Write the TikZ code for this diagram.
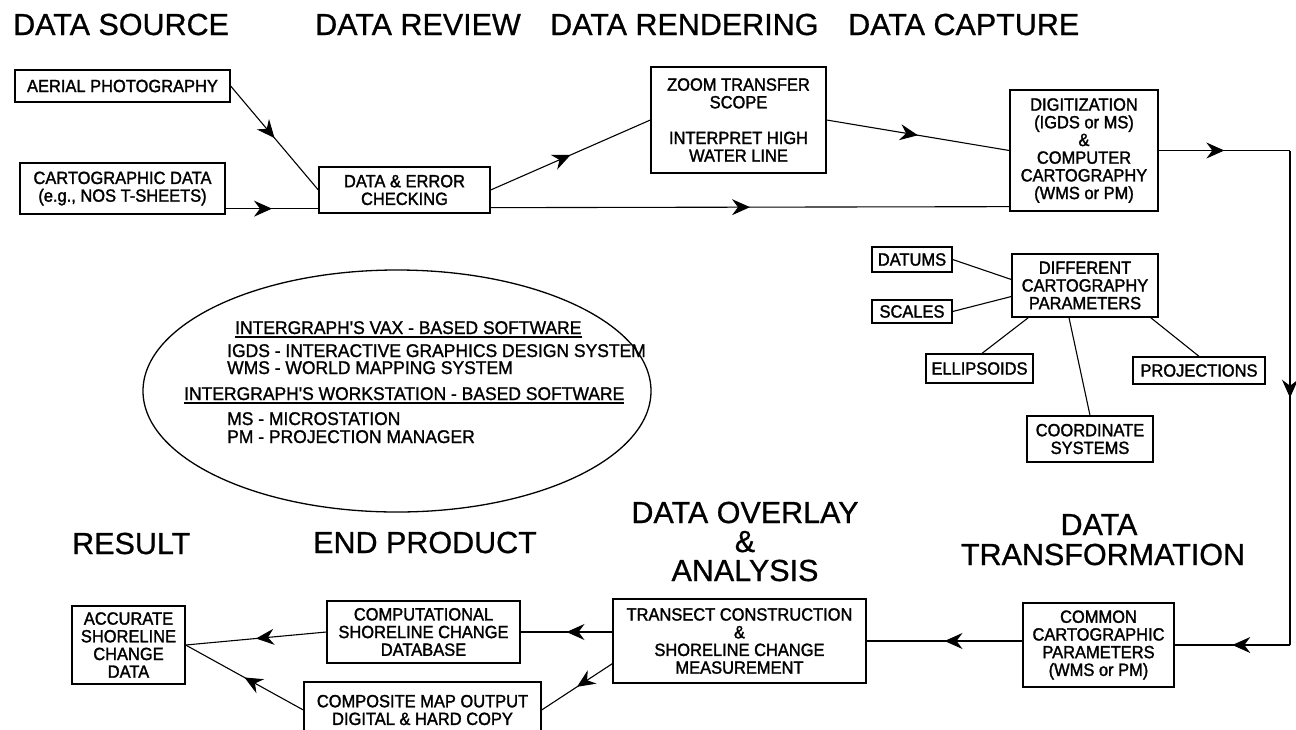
\documentclass[tikz,border=0pt]{standalone}
\usepackage{fontspec}
\setmainfont{Liberation Sans}
\newfontfamily\heavyfont[FakeBold=1.6, FakeStretch=0.93]{Liberation Sans}
\newfontfamily\medfont[FakeBold=1.2, FakeStretch=0.95]{Liberation Sans}
\newfontfamily\hdrfont[FakeBold=0.8]{Liberation Sans}
\usetikzlibrary{arrows.meta,decorations.markings,shapes.geometric,calc}
\tikzset{
  box/.style={draw, line width=1.3pt, inner sep=0pt, align=center,
    font=\heavyfont\fontsize{17.7}{17.7}\selectfont},
  hdr/.style={inner sep=0pt, font=\hdrfont\fontsize{30.5}{30}\selectfont},
  leg/.style={inner sep=0pt, anchor=base west, font=\medfont\fontsize{18.4}{18}\selectfont},
  conn/.style={line width=1.1pt},
  midarrow/.style={conn, postaction={decorate}, decoration={markings,
    mark=at position 0.5 with {\arrow{Stealth[length=18pt,width=16pt,inset=6pt]}}}},
}
\begin{document}
\begin{tikzpicture}[x=1pt,y=-1pt]
\path[use as bounding box, clip] (0,0) rectangle (1296,729);
\fill[white] (0,0) rectangle (1296,729);

% headers
\node[hdr, anchor=base west] (hsrc) at (13,35) {DATA SOURCE};
\node[hdr, anchor=base west] (hrev) at (315,35) {DATA REVIEW};
\node[hdr, anchor=base west] (hren) at (550,35) {DATA RENDERING};
\node[hdr, anchor=base west] (hcap) at (848,35) {DATA CAPTURE};
\node[hdr, anchor=base west] (hres) at (72,554) {RESULT};
\node[hdr, anchor=base west] (hend) at (313,553) {END PRODUCT};
\node[hdr, anchor=base] (hov1) at (745,523) {DATA OVERLAY};
\node[hdr, anchor=base] (hov2) at (745,552) {\&};
\node[hdr, anchor=base] (hov3) at (745,581) {ANALYSIS};
\node[hdr, anchor=base] (htr1) at (1099,535) {DATA};
\node[hdr, anchor=base] (htr2) at (1103,565) {TRANSFORMATION};

% boxes
\node[box, minimum width=215pt, minimum height=32pt] (aerial) at (122.5,86) {AERIAL PHOTOGRAPHY};
\node[box, minimum width=205pt, minimum height=51pt] (carto) at (122.5,188.5) {CARTOGRAPHIC DATA\\(e.g., NOS T-SHEETS)};
\node[box, minimum width=171pt, minimum height=46pt] (de) at (404.5,190) {DATA \& ERROR\\CHECKING};
\node[box, minimum width=175pt, minimum height=106pt] (zoom) at (738.5,120) {ZOOM TRANSFER\\SCOPE\\[18pt]INTERPRET HIGH\\WATER LINE};
\node[box, minimum width=148pt, minimum height=121pt] (digit) at (1084,150.5) {DIGITIZATION\\(IGDS or MS)\\\&\\COMPUTER\\CARTOGRAPHY\\(WMS or PM)};
\node[box, minimum width=80pt, minimum height=25pt] (datums) at (912,259.5) {DATUMS};
\node[box, minimum width=80pt, minimum height=23pt] (scales) at (912,311.5) {SCALES};
\node[box, minimum width=146pt, minimum height=63pt] (diff) at (1085,285.5) {DIFFERENT\\CARTOGRAPHY\\PARAMETERS};
\node[box, minimum width=107pt, minimum height=29pt] (ellip) at (979.5,368.5) {ELLIPSOIDS};
\node[box, minimum width=132pt, minimum height=27pt] (proj) at (1199,370.5) {PROJECTIONS};
\node[box, minimum width=126pt, minimum height=46pt] (coord) at (1090,439) {COORDINATE\\SYSTEMS};
\node[box, minimum width=151pt, minimum height=84pt] (common) at (1098.5,645) {COMMON\\CARTOGRAPHIC\\PARAMETERS\\(WMS or PM)};
\node[box, minimum width=253pt, minimum height=84pt] (transect) at (739.5,641) {TRANSECT CONSTRUCTION\\\&\\SHORELINE CHANGE\\MEASUREMENT};
\node[box, minimum width=193pt, minimum height=62pt] (comp) at (423.5,632) {COMPUTATIONAL\\SHORELINE CHANGE\\DATABASE};
\node[box, minimum width=237pt, minimum height=56pt] (composite) at (422.5,710) {COMPOSITE MAP OUTPUT\\DIGITAL \& HARD COPY};
\node[box, minimum width=113pt, minimum height=78pt] (acc) at (128.5,645) {ACCURATE\\SHORELINE\\CHANGE\\DATA};

% legend ellipse
\node[draw, ellipse, line width=1.3pt, minimum width=508pt, minimum height=242pt, inner sep=0pt] (legend) at (397,391) {};
\node[leg] (l1) at (235,334) {INTERGRAPH'S VAX - BASED SOFTWARE};
\node[leg] (l2) at (227,357) {IGDS - INTERACTIVE GRAPHICS DESIGN SYSTEM};
\node[leg] (l3) at (227,374) {WMS - WORLD MAPPING SYSTEM};
\node[leg] (l4) at (184,400) {INTERGRAPH'S WORKSTATION - BASED SOFTWARE};
\node[leg] (l5) at (227,425) {MS - MICROSTATION};
\node[leg] (l6) at (227,443) {PM - PROJECTION MANAGER};
\draw[line width=1.2pt] ([yshift=-3pt]l1.base west) -- ([yshift=-3pt]l1.base east);
\draw[line width=1.2pt] ([yshift=-3pt]l4.base west) -- ([yshift=-3pt]l4.base east);

% connectors
\draw[midarrow] (aerial.east) -- (de.west);
\draw[midarrow] ([yshift=6pt]carto.south east) -- ([yshift=5pt]de.south west);
\draw[midarrow] (de.east) -- (zoom.west);
\draw[midarrow] ([yshift=6pt]de.south east) -- ([yshift=5pt]digit.south west);
\draw[midarrow] (zoom.east) -- (digit.west);
\coordinate (c1) at (1290,150.5);
\coordinate (c2) at (1290,645);
\draw[midarrow] (digit.east) -- (c1);
\draw[midarrow] (c1) -- (c2);
\draw[midarrow] (c2) -- (common.east);
\draw[midarrow] (common.west |- transect.east) -- (transect.east);
\draw[midarrow] (transect.west |- comp.east) -- (comp.east);
\draw[midarrow] ([yshift=20pt]transect.south west) -- (composite.east);
\draw[midarrow] (comp.west) -- (acc.east);
\draw[midarrow] (composite.west) -- (acc.east);

\draw[conn] (datums.east) -- ([yshift=6pt]diff.west);
\draw[conn] (scales.east) -- ([yshift=-11pt]diff.west);
\draw[conn] ([xshift=17pt]diff.south west) -- ([xshift=2.5pt]ellip.north);
\draw[conn] ([xshift=-16pt]diff.south) -- (coord.north);
\draw[conn] ([xshift=-8pt]diff.south east) -- (proj.north);
\end{tikzpicture}
\end{document}
